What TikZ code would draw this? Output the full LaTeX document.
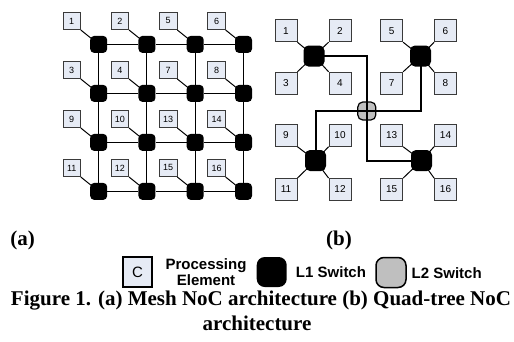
\documentclass[tikz,border=0pt]{standalone}
\usepackage{fontspec}
\setmainfont{Liberation Serif}
\setsansfont{Liberation Sans}
\definecolor{pefill}{HTML}{E6EBF5}
\definecolor{peline}{HTML}{3A3A3A}
\definecolor{ltwo}{HTML}{BFBFBF}
\tikzset{
  pebox/.style={draw=peline, fill=pefill, line width=0.8pt, inner sep=0pt,
    font=\sffamily\fontsize{9}{10}\selectfont},
  pea/.style={pebox, minimum size=17.5pt},
  peb/.style={pebox, minimum size=22pt, font=\sffamily\fontsize{10}{11}\selectfont},
  swa/.style={fill=black, rounded corners=4pt, minimum size=17pt, inner sep=0pt},
  swb/.style={fill=black, rounded corners=5pt, minimum size=21pt, inner sep=0pt},
  l2sw/.style={draw=black, fill=ltwo, line width=1.2pt, rounded corners=5pt, minimum size=18pt, inner sep=0pt},
  meshlink/.style={line width=1pt},
  pelink/.style={line width=1pt},
  treelink/.style={line width=2pt},
  sublabel/.style={font=\bfseries\fontsize{21}{22}\selectfont},
  legtext/.style={font=\sffamily\bfseries\fontsize{15}{16}\selectfont, align=center, inner sep=0pt},
}
\begin{document}
\begin{tikzpicture}[x=1pt, y=-1pt]
\useasboundingbox (0,0) rectangle (514,341);

% ---------- (a) 4x4 mesh ----------
\foreach \l [count=\i from 0] in {1,2,5,6,3,4,7,8,9,10,13,14,11,12,15,16} {
  \pgfmathtruncatemacro{\r}{int(\i/4)}
  \pgfmathtruncatemacro{\c}{mod(\i,4)}
  \pgfmathsetmacro{\sx}{98.7+48.27*\c}
  \pgfmathsetmacro{\sy}{44.4+49*\r}
  \node[pea] (pa\l) at (\sx-27,\sy-23.5) {\l};
  \node[swa] (sa\l) at (\sx,\sy) {};
  \draw[pelink] (pa\l.south east) -- (sa\l.center);
}
\draw[meshlink] (sa1) -- (sa2) -- (sa5) -- (sa6);
\draw[meshlink] (sa3) -- (sa4) -- (sa7) -- (sa8);
\draw[meshlink] (sa9) -- (sa10) -- (sa13) -- (sa14);
\draw[meshlink] (sa11) -- (sa12) -- (sa15) -- (sa16);
\draw[meshlink] (sa1) -- (sa3) -- (sa9) -- (sa11);
\draw[meshlink] (sa2) -- (sa4) -- (sa10) -- (sa12);
\draw[meshlink] (sa5) -- (sa7) -- (sa13) -- (sa15);
\draw[meshlink] (sa6) -- (sa8) -- (sa14) -- (sa16);

% ---------- (b) quad-tree ----------
\foreach \l/\x/\y in {1/286/30.8, 2/340/30.8, 5/391.7/30.8, 6/445.5/30.8,
                      3/286/83.2, 4/340/83.2, 7/391.7/83.2, 8/445.5/83.2,
                      9/286/135.3, 10/340/135.3, 13/391.7/135.3, 14/445.5/135.3,
                      11/286/189.5, 12/340/189.5, 15/391.7/189.5, 16/445.5/189.5}
  \node[peb] (pb\l) at (\x,\y) {\l};

\node[swb] (q1) at (314,56) {};
\node[swb] (q2) at (420.5,56) {};
\node[swb] (q3) at (315.5,160.5) {};
\node[swb] (q4) at (421.5,160.5) {};
\node[l2sw] (l2) at (366.8,111) {};

\foreach \p/\a/\s in {1/south east/q1, 2/south west/q1, 3/north east/q1, 4/north west/q1,
                      5/south east/q2, 6/south west/q2, 7/north east/q2, 8/north west/q2,
                      9/south east/q3, 10/south west/q3, 11/north east/q3, 12/north west/q3,
                      13/south east/q4, 14/south west/q4, 15/north east/q4, 16/north west/q4}
  \draw[pelink] (pb\p.\a) -- (\s.center);

\draw[treelink] (q1.center) -- (l2 |- q1) -- (l2 |- q4) -- (q4.center);
\draw[treelink] (q2.center) -- (q2 |- l2) -- (q3 |- l2) -- (q3.center);

% ---------- sub-figure labels ----------
\node[sublabel] (lba) at (22.5,240) {(a)};
\node[sublabel] (lbb) at (339,240) {(b)};

% ---------- legend ----------
\node[draw=black, fill=pefill, line width=1.3pt, minimum width=29pt, minimum height=30pt,
      inner sep=0pt, font=\sffamily\fontsize{15}{16}\selectfont] (legpe) at (137.5,272) {C};
\node[legtext] (legpetxt) at (206,272.5) {Processing\\Element};
\node[fill=black, rounded corners=8pt, minimum size=30pt, inner sep=0pt] (legl1) at (271.7,272) {};
\node[legtext] (legl1txt) at (331,272) {L1 Switch};
\node[draw=black, fill=ltwo, line width=1.5pt, rounded corners=8pt, minimum size=30pt, inner sep=0pt] (legl2) at (391,272.5) {};
\node[legtext] (legl2txt) at (446.7,273) {L2 Switch};

% ---------- caption ----------
\node[font=\bfseries\fontsize{21}{22}\selectfont, inner sep=0pt] (cap1) at (261,301)
  {Figure 1. (a) Mesh NoC architecture (b) Quad-tree NoC};
\node[font=\bfseries\fontsize{21}{22}\selectfont, inner sep=0pt] (cap2) at (257,323) {architecture};
\end{tikzpicture}
\end{document}
